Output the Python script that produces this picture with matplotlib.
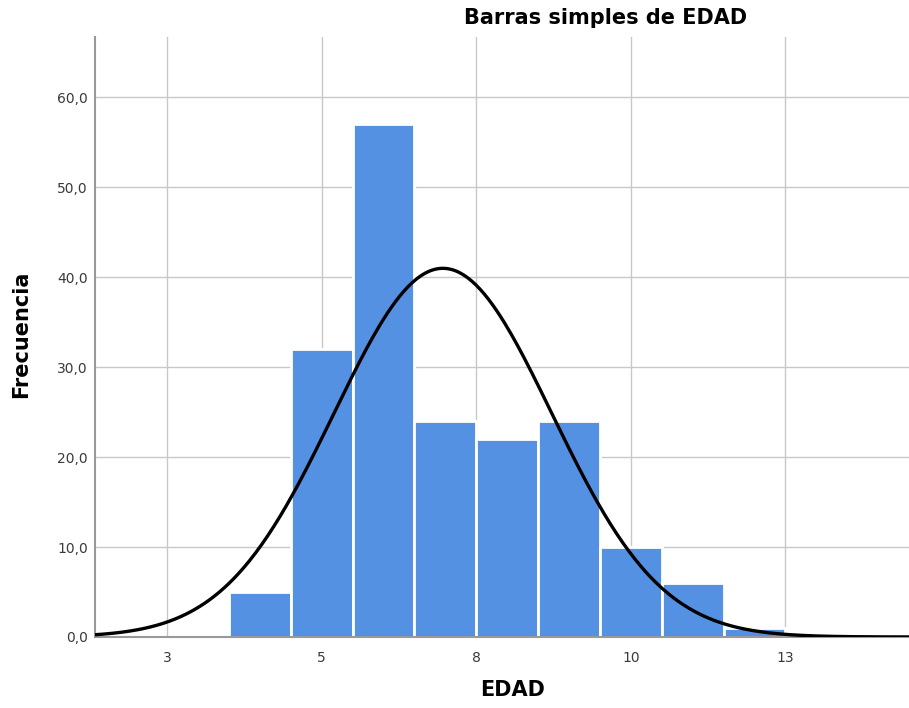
import numpy as np
import matplotlib.pyplot as plt

# EDAD frequency table
edad = [4, 5, 6, 7, 8, 9, 10, 11, 12]
frecuencia = [5, 32, 57, 24, 22, 24, 10, 6, 1]

xticks = [2.5, 5, 7.5, 10, 12.5]
xtick_labels = ["3", "5", "8", "10", "13"]
yticks = [0, 10, 20, 30, 40, 50, 60]

bar_color = "#5591e2"
grid_color = "#c8c8c8"

fig = plt.figure(figsize=(9.09, 7.08), dpi=100)
ax = fig.add_axes([0.1045, 0.1003, 0.8955, 0.8474])

ax.bar(edad, frecuencia, width=1.0, color=bar_color, edgecolor="white",
       linewidth=2.0, zorder=2)

# normal curve fitted to the same data
vals = np.repeat(edad, frecuencia)
n = len(vals)
mu = vals.mean()
sd = vals.std(ddof=1)
xs = np.linspace(1.3, 14.6, 400)
ys = n * 1.0 / (sd * np.sqrt(2 * np.pi)) * np.exp(-0.5 * ((xs - mu) / sd) ** 2)
ax.plot(xs, ys, color="black", linewidth=2.4, zorder=3)

ax.set_xlim(1.335, 14.5)
ax.set_ylim(0, 66.7)
ax.set_xticks(xticks)
ax.set_xticklabels(xtick_labels)
ax.set_yticks(yticks)
ax.set_yticklabels([f"{v:.1f}".replace(".", ",") for v in yticks])
ax.tick_params(length=0, labelsize=10, labelcolor="#3a3a3a")
ax.tick_params(axis="x", pad=10)
ax.tick_params(axis="y", pad=5)

ax.grid(True, color=grid_color, linewidth=1.0, zorder=0)
ax.set_axisbelow(True)
for side in ["top", "right"]:
    ax.spines[side].set_visible(False)
ax.spines["left"].set_color("#999999")
ax.spines["bottom"].set_color("#999999")
ax.spines["left"].set_linewidth(1.5)
ax.spines["bottom"].set_linewidth(1.5)

fig.text(0.666, 0.974, "Barras simples de EDAD", ha="center", va="center",
         fontsize=15, fontweight="bold")
fig.text(0.564, 0.025, "EDAD", ha="center", va="center",
         fontsize=15, fontweight="bold")
fig.text(0.023, 0.528, "Frecuencia", ha="center", va="center", rotation=90,
         fontsize=15, fontweight="bold")

fig.savefig("out.png", dpi=100)
